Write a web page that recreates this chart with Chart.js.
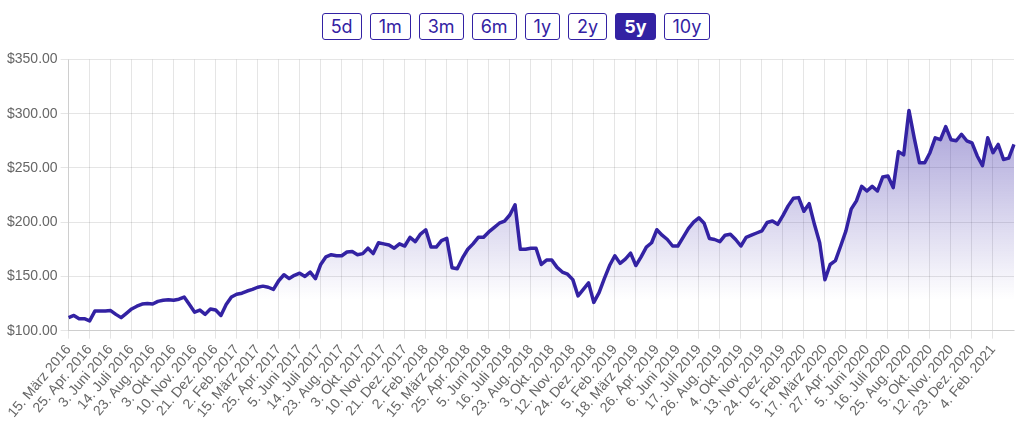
<!DOCTYPE html>
<html>
<head>
<meta charset="utf-8">
<script src="https://cdn.jsdelivr.net/npm/chart.js@4.4.1/dist/chart.umd.min.js"></script>
<style>
  html, body { margin: 0; padding: 0; background: #fff; }
  body { width: 1024px; height: 434px; overflow: hidden; }
  .ranges {
    height: 48px;
    box-sizing: border-box;
    padding-top: 13px;
    display: flex;
    justify-content: center;
    align-items: flex-start;
    gap: 8px;
    padding-left: 8px;
  }
  .ranges button {
    font-family: Inter, "Liberation Sans", sans-serif;
    font-size: 18px;
    height: 27px;
    line-height: 25px;
    padding: 0 8px;
    border: 1px solid #3322a3;
    border-radius: 3px;
    background: #fff;
    color: #3322a3;
  }
  .ranges button.active {
    background: #3322a3;
    color: #fff;
    font-weight: bold;
  }
  .chart-box { position: relative; width: 1024px; height: 386px; }
</style>
</head>
<body>
<div class="ranges">
  <button>5d</button>
  <button>1m</button>
  <button>3m</button>
  <button>6m</button>
  <button>1y</button>
  <button>2y</button>
  <button class="active">5y</button>
  <button>10y</button>
</div>
<div class="chart-box">
  <canvas id="price-chart"></canvas>
</div>
<script>
// labels shown on the x axis, one every 4 data points
const tickLabels = [
  "15. März 2016", "25. Apr. 2016", "3. Juni 2016", "14. Juli 2016", "23. Aug. 2016",
  "3. Okt. 2016", "10. Nov. 2016", "21. Dez. 2016", "2. Feb. 2017", "15. März 2017",
  "25. Apr. 2017", "5. Juni 2017", "14. Juli 2017", "23. Aug. 2017", "3. Okt. 2017",
  "10. Nov. 2017", "21. Dez. 2017", "2. Feb. 2018", "15. März 2018", "25. Apr. 2018",
  "5. Juni 2018", "16. Juli 2018", "23. Aug. 2018", "3. Okt. 2018", "12. Nov. 2018",
  "24. Dez. 2018", "5. Feb. 2019", "18. März 2019", "26. Apr. 2019", "6. Juni 2019",
  "17. Juli 2019", "26. Aug. 2019", "4. Okt. 2019", "13. Nov. 2019", "24. Dez. 2019",
  "5. Feb. 2020", "17. März 2020", "27. Apr. 2020", "5. Juni 2020", "16. Juli 2020",
  "25. Aug. 2020", "5. Okt. 2020", "12. Nov. 2020", "23. Dez. 2020", "4. Feb. 2021"
];
const pointsPerTick = 4;

// closing prices (USD)
const prices2016 = [ // März 2016 - Jan. 2017
  112, 114, 111, 111, 109, 118, 118, 118, 118.5, 115, 112, 116, 120, 122.5, 124.5, 125,
  124.5, 127, 128, 128.5, 128, 129, 131, 124, 117, 119, 115, 120, 119, 114, 124, 131
];
const prices2017 = [ // Feb. 2017 - Jan. 2018
  133.5, 134.5, 136.5, 138, 140, 141, 140, 138, 146, 151.5, 148, 151, 153, 150, 154, 148,
  161, 168, 170, 169, 169, 172.5, 173, 170, 171, 176, 171, 181, 180, 179, 176, 180,
  178, 186, 182, 189
];
const prices2018 = [ // Feb. 2018 - Jan. 2019
  193, 177, 177, 183, 185, 158, 157, 167, 175, 180, 186, 186, 191, 195, 199, 201,
  206.6, 216, 175, 175, 176, 176, 161, 165, 165, 158.3, 154, 152, 147, 132, 138, 144,
  126, 135, 148, 160
];
const prices2019 = [ // Feb. 2019 - Jan. 2020
  169, 162, 166, 171.5, 160, 168, 177, 181, 193, 188, 184, 178, 178, 186, 194, 200,
  204, 199, 185, 184, 182, 188, 188.8, 184, 178, 186, 188, 190, 192, 199.7, 201, 198,
  206, 215, 222, 222.6
];
const prices2020 = [ // Feb. 2020 - März 2021
  210, 217, 198, 181, 147, 161, 164.5, 178, 192, 212, 219.6, 233, 228.7, 233, 228.7, 241.6,
  242.5, 231.8, 265, 262, 303, 277.7, 254.7, 254.7, 264, 277.7, 276, 288, 276, 275, 281, 275,
  273, 261, 252, 277.7, 264, 271.6, 257.8, 259, 271.6
];

const prices = [].concat(prices2016, prices2017, prices2018, prices2019, prices2020);
const categories = prices.map(function (_, i) {
  return i % pointsPerTick === 0 ? (tickLabels[i / pointsPerTick] || "") : "";
});

const yMin = 100;
const yMax = 350;
const yStep = 50;
const lineColor = "#3322a3";
const gridColor = "rgba(0, 0, 0, 0.1)";

const ctx = document.getElementById("price-chart").getContext("2d");
new Chart(ctx, {
  type: "line",
  data: {
    labels: categories,
    datasets: [
      {
        data: prices,
        borderColor: lineColor,
        borderWidth: 3.5,
        borderJoinStyle: "round",
        pointRadius: 0,
        tension: 0,
        fill: "start",
        backgroundColor: function (context) {
          const area = context.chart.chartArea;
          if (!area) return "transparent";
          // fades out a bit above the bottom of the plot
          const g = context.chart.ctx.createLinearGradient(0, area.top, 0, area.top + 240);
          g.addColorStop(0, "rgba(51, 34, 163, 0.55)");
          g.addColorStop(1, "rgba(51, 34, 163, 0)");
          return g;
        },
      },
    ],
  },
  options: {
    responsive: true,
    maintainAspectRatio: false,
    animation: false,
    layout: { padding: { left: 4, right: 10, top: 0, bottom: 10 } },
    plugins: { legend: { display: false }, tooltip: { enabled: false } },
    scales: {
      x: {
        grid: { color: gridColor },
        ticks: {
          autoSkip: false,
          minRotation: 50,
          maxRotation: 50,
          color: "#666",
          font: { family: "Liberation Sans", size: 14 },
          // empty categories give no label and no grid line
          callback: function (value, index) {
            return categories[index] === "" ? null : categories[index];
          },
        },
      },
      y: {
        min: yMin,
        max: yMax,
        grid: { color: gridColor },
        ticks: {
          stepSize: yStep,
          color: "#666",
          font: { family: "Liberation Sans", size: 14 },
          callback: function (value) {
            return "$" + value.toFixed(2);
          },
        },
      },
    },
  },
});
</script>
</body>
</html>
